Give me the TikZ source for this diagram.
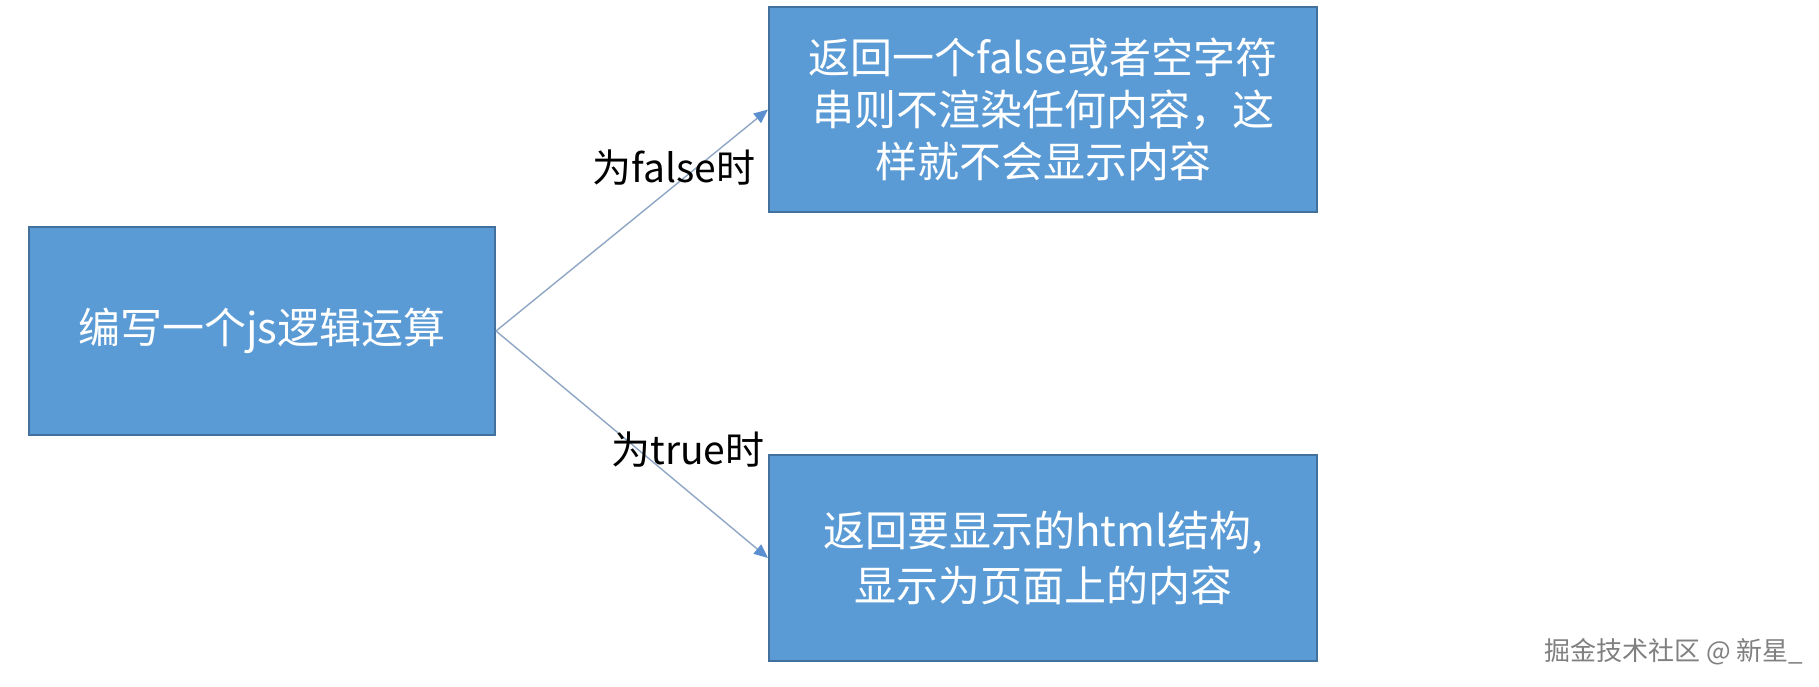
\documentclass[tikz,border=0pt]{standalone}
\usepackage{fontspec}
\setmainfont{Noto Sans CJK SC}
\usetikzlibrary{arrows.meta}
\definecolor{boxfill}{HTML}{5B9BD5}
\definecolor{boxline}{HTML}{41719C}
\definecolor{arrowline}{HTML}{8FA7C4}
\definecolor{arrowhead}{HTML}{5B8FD0}
\definecolor{wmgray}{HTML}{808080}
\tikzset{
  flowbox/.style={draw=boxline, line width=1pt, fill=boxfill, text=white,
    rectangle, inner sep=0pt, align=center,
    font=\fontsize{21pt}{26pt}\selectfont},
  branchlabel/.style={inner sep=0pt, text=black, font=\fontsize{19.5pt}{23pt}\selectfont},
  connector/.style={draw=arrowline, line width=0.7pt,
    -{Triangle[length=7pt,width=6pt,color=arrowhead,fill=arrowhead]}},
}
\begin{document}
\begin{tikzpicture}[x=0.5pt,y=-0.5pt]
\useasboundingbox[fill=white] (0,0) rectangle (1819,686);
\node[flowbox, minimum width=233pt, minimum height=104pt] (src) at (262,331) {编写一个js逻辑运算};
\node[flowbox, minimum width=274pt, minimum height=102.5pt] (falsebox) at (1043,109.5)
  {返回一个false或者空字符\\串则不渲染任何内容，这\\样就不会显示内容};
\node[flowbox, minimum width=274pt, minimum height=103pt, font=\fontsize{21pt}{27.5pt}\selectfont] (truebox) at (1043,558)
  {返回要显示的html结构,\\显示为页面上的内容};
\draw[connector] (src.east) -- (falsebox.west);
\draw[connector] (src.east) -- (truebox.west);
\node[branchlabel] (flabel) at (674,168) {为false时};
\node[branchlabel] (tlabel) at (688,450) {为true时};
\node[inner sep=0pt, text=wmgray, font=\fontsize{13pt}{15pt}\selectfont] (wm) at (1674,652) {掘金技术社区 @ 新星\_};
\end{tikzpicture}
\end{document}
